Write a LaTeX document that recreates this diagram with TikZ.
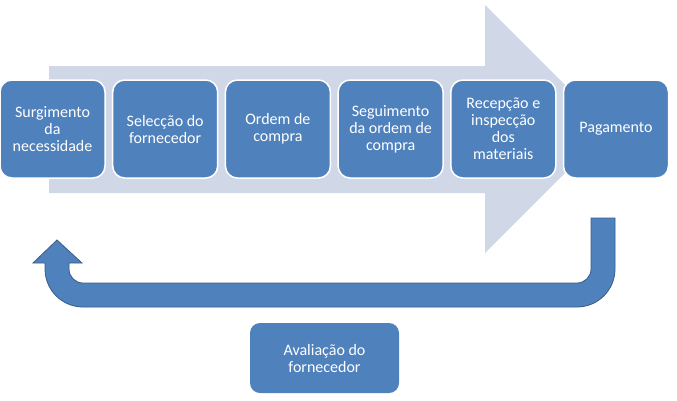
\documentclass[tikz,border=0pt]{standalone}
\usepackage{fontspec}
\setmainfont{Carlito}
\usetikzlibrary{positioning}
\definecolor{corCaixa}{RGB}{79,129,189}
\definecolor{corSeta}{RGB}{208,216,232}
\definecolor{corBorda}{RGB}{56,93,138}

\begin{document}
\begin{tikzpicture}[x=1pt, y=-1pt,
	font=\fontsize{16}{17}\selectfont,
	etapa/.style={rectangle, rounded corners=12pt, draw=white, line width=1.5pt, fill=corCaixa,
	              text=white, align=center, minimum width=105pt, minimum height=98pt,
	              inner sep=2pt, outer sep=0pt},
	avaliacao/.style={rectangle, rounded corners=10pt, fill=corCaixa, text=white, align=center,
	                  minimum width=149pt, minimum height=70pt, inner sep=2pt},
	retorno/.style={fill=corCaixa, draw=corBorda, line width=0.8pt},
	]
\useasboundingbox (0,0) rectangle (677,400);

% Seta de fundo
\fill[corSeta] (49,66) -- (485,66) -- (485,5) -- (609,129) -- (485,253) -- (485,193) -- (49,193) -- cycle;

% Etapas do processo
\node[etapa] (e1) at (52.5,129) {Surgimento\\da\\necessidade};
\node[etapa, right=7.7pt of e1] (e2) {Selecção do\\fornecedor};
\node[etapa, right=7.7pt of e2] (e3) {Ordem de\\compra};
\node[etapa, right=7.7pt of e3] (e4) {Seguimento\\da ordem de\\compra};
\node[etapa, right=7.7pt of e4] (e5) {Recepção e\\inspecção\\dos\\materiais};
\node[etapa, right=7.7pt of e5] (e6) {Pagamento};

% Seta de retorno
\filldraw[retorno] (591,218) -- (615,218) -- (615,269) arc[start angle=0, end angle=90, radius=38]
	-- (83,307) arc[start angle=90, end angle=180, radius=38]
	-- (45,263) -- (33,263) -- (57,240) -- (82,263) -- (69,263) -- (69,269)
	arc[start angle=180, end angle=90, radius=14]
	-- (577,283) arc[start angle=90, end angle=0, radius=14] -- cycle;

\node[avaliacao] (av) at (324.5,358) {Avaliação do\\fornecedor};

\end{tikzpicture}
\end{document}
